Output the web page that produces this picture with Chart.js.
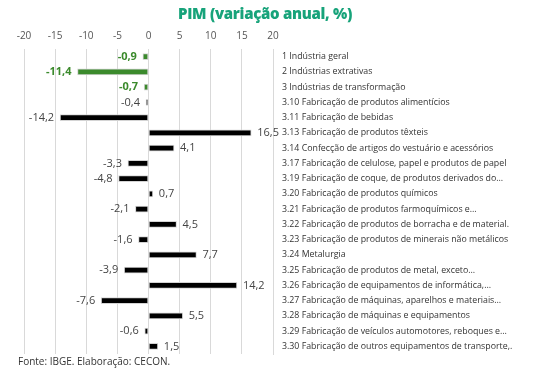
<!DOCTYPE html>
<html>
<head>
<meta charset="utf-8">
<script src="https://cdn.jsdelivr.net/npm/chart.js@4"></script>
<style>
  html, body { margin: 0; padding: 0; background: #fff; }
  #wrap { position: relative; width: 556px; height: 385px; overflow: hidden; }
  #cv { position: absolute; left: 0; top: 0; }
  #title { position: absolute; top: 3px; left: 0; width: 530px; text-align: center;
    font-family: "Open Sans", sans-serif; font-weight: 800; font-size: 15px; color: #17a37a; letter-spacing: -0.3px; }
  #foot { position: absolute; top: 354px; left: 18px; font-family: "Open Sans", sans-serif;
    font-size: 10px; color: #333; }
</style>
</head>
<body>
<div id="wrap">
  <canvas id="cv" width="556" height="385"></canvas>
  <div id="title">PIM (variação anual, %)</div>
  <div id="foot">Fonte: IBGE. Elaboração: CECON.</div>
</div>
<script>
const categories = [
  "1 Indústria geral",
  "2 Indústrias extrativas",
  "3 Indústrias de transformação",
  "3.10 Fabricação de produtos alimentícios",
  "3.11 Fabricação de bebidas",
  "3.13 Fabricação de produtos têxteis",
  "3.14 Confecção de artigos do vestuário e acessórios",
  "3.17 Fabricação de celulose, papel e produtos de papel",
  "3.19 Fabricação de coque, de produtos derivados do…",
  "3.20 Fabricação de produtos químicos",
  "3.21 Fabricação de produtos farmoquímicos e…",
  "3.22 Fabricação de produtos de borracha e de material.",
  "3.23 Fabricação de produtos de minerais não metálicos",
  "3.24 Metalurgia",
  "3.25 Fabricação de produtos de metal, exceto…",
  "3.26 Fabricação de equipamentos de informática,…",
  "3.27 Fabricação de máquinas, aparelhos e materiais…",
  "3.28 Fabricação de máquinas e equipamentos",
  "3.29 Fabricação de veículos automotores, reboques e…",
  "3.30 Fabricação de outros equipamentos de transporte,."
];
const values = [-0.9, -11.4, -0.7, -0.4, -14.2, 16.5, 4.1, -3.3, -4.8, 0.7, -2.1, 4.5, -1.6, 7.7, -3.9, 14.2, -7.6, 5.5, -0.6, 1.5];
const highlighted = [true, true, true, false, false, false, false, false, false, false, false, false, false, false, false, false, false, false, false, false];
const xTicks = [-20, -15, -10, -5, 0, 5, 10, 15, 20];

const GREEN = '#3b8a2c';
const BLACK = '#000000';

const valueLabels = {
  id: 'valueLabels',
  afterDatasetsDraw(chart) {
    const ctx = chart.ctx;
    const meta = chart.getDatasetMeta(0);
    ctx.save();
    ctx.textBaseline = 'middle';
    meta.data.forEach((bar, i) => {
      const v = values[i];
      const txt = v.toFixed(1).replace('.', ',');
      if (highlighted[i]) {
        ctx.font = 'bold 11px "Open Sans", sans-serif';
        ctx.fillStyle = GREEN;
      } else {
        ctx.font = '11px "Open Sans", sans-serif';
        ctx.fillStyle = '#444';
      }
      if (v < 0) {
        ctx.textAlign = 'right';
        ctx.fillText(txt, bar.x - 6, bar.y);
      } else {
        ctx.textAlign = 'left';
        ctx.fillText(txt, bar.x + 6, bar.y);
      }
    });
    ctx.restore();
  }
};

new Chart(document.getElementById('cv'), {
  type: 'bar',
  data: {
    labels: categories,
    datasets: [{
      data: values,
      backgroundColor: highlighted.map(h => h ? GREEN : BLACK),
      borderColor: '#d4d4d4',
      borderWidth: 1,
      borderSkipped: false,
      barThickness: 6
    }]
  },
  options: {
    indexAxis: 'y',
    responsive: false,
    animation: false,
    layout: { padding: { top: 23, left: 24, right: 0, bottom: 31 } },
    plugins: {
      legend: { display: false },
      tooltip: { enabled: false },
      title: { display: false }
    },
    scales: {
      x: {
        position: 'top',
        min: -20,
        max: 20,
        afterBuildTicks(scale) { scale.ticks = xTicks.map(v => ({ value: v })); },
        ticks: {
          font: { family: '"Open Sans", sans-serif', size: 10 },
          color: '#555',
          padding: 7
        },
        grid: { color: '#d9d9d9', drawTicks: false },
        border: { display: false }
      },
      y: {
        position: 'right',
        afterFit(scale) { scale.width = 283; },
        ticks: {
          font: { family: '"Open Sans", sans-serif', size: 8.8 },
          color: '#333',
          padding: 9,
          autoSkip: false
        },
        grid: { display: false, drawTicks: false },
        border: { display: true, color: '#d9d9d9' }
      }
    }
  },
  plugins: [valueLabels]
});
</script>
</body>
</html>
